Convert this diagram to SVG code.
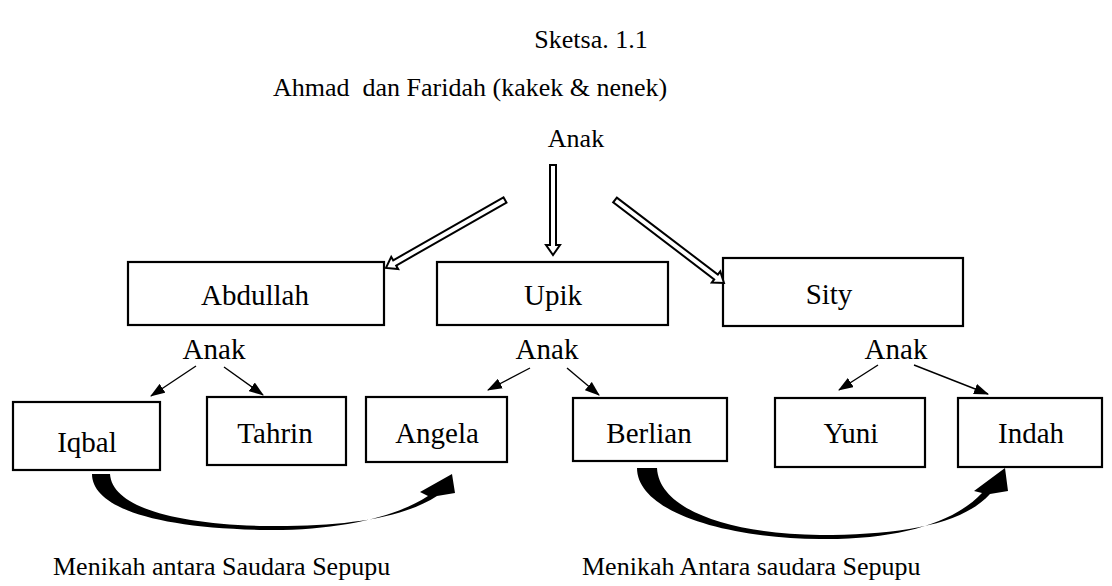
<svg xmlns="http://www.w3.org/2000/svg" width="1112" height="586" viewBox="0 0 1112 586">
<style>
text{font-family:"Liberation Serif","Times New Roman",serif;font-size:26px;fill:#000;white-space:pre}
.c{text-anchor:middle}
.n{font-size:29px}
.box{fill:#fff;stroke:#000;stroke-width:2.2}
.thin{fill:none;stroke:#000;stroke-width:1.4;marker-end:url(#ah)}
.dbl{fill:#fff;stroke:#000;stroke-width:2;stroke-linejoin:miter}
.curve{fill:#000;stroke:none}
</style>
<defs>
<marker id="ah" viewBox="0 0 14 10" refX="13" refY="5" markerWidth="15" markerHeight="11" markerUnits="userSpaceOnUse" orient="auto">
<path d="M0,0 L14,5 L0,10 Z" fill="#000"/>
</marker>
</defs>
<rect width="1112" height="586" fill="#fff"/>

<g id="titles">
<text class="c" x="591" y="48">Sketsa. 1.1</text>
<text x="273" y="96">Ahmad  dan Faridah (kakek &amp; nenek)</text>
</g>

<g id="labels">
<text class="c" x="576" y="147">Anak</text>
<text class="c n" x="214" y="359">Anak</text>
<text class="c n" x="547" y="359">Anak</text>
<text class="c n" x="896" y="359">Anak</text>
<text x="53" y="575">Menikah antara Saudara Sepupu</text>
<text x="582" y="575">Menikah Antara saudara Sepupu</text>
</g>

<g id="node-abdullah"><rect class="box" x="128" y="262" width="256" height="63"/><text class="c n" x="255" y="305">Abdullah</text></g>
<g id="node-upik"><rect class="box" x="437" y="262" width="231" height="63"/><text class="c n" x="553" y="305">Upik</text></g>
<g id="node-sity"><rect class="box" x="723" y="258" width="240" height="68"/><text class="c n" x="829" y="304">Sity</text></g>

<g id="node-iqbal"><rect class="box" x="13" y="402" width="147" height="68"/><text class="c n" x="87" y="452">Iqbal</text></g>
<g id="node-tahrin"><rect class="box" x="207" y="397" width="139" height="68"/><text class="c n" x="275" y="443">Tahrin</text></g>
<g id="node-angela"><rect class="box" x="366" y="397" width="141" height="65"/><text class="c n" x="437" y="443">Angela</text></g>
<g id="node-berlian"><rect class="box" x="573" y="398" width="154" height="63"/><text class="c n" x="649" y="443">Berlian</text></g>
<g id="node-yuni"><rect class="box" x="775" y="398" width="150" height="69"/><text class="c n" x="851" y="443">Yuni</text></g>
<g id="node-indah"><rect class="box" x="958" y="398" width="144" height="69"/><text class="c n" x="1031" y="443">Indah</text></g>

<g id="connectors">
<path class="dbl" transform="translate(553,165) rotate(90)" d="M0,-3 L80,-3 L80,-7 L90,0 L80,7 L80,3 L0,3 Z"/>
<path class="dbl" transform="translate(505,200) rotate(150.3)" d="M0,-3 L127,-3 L127,-7 L137,0 L127,7 L127,3 L0,3 Z"/>
<path class="dbl" transform="translate(615,200) rotate(37.3)" d="M0,-3 L127,-3 L127,-7 L137,0 L127,7 L127,3 L0,3 Z"/>

<line class="thin" x1="196" y1="366" x2="151" y2="396"/>
<line class="thin" x1="224" y1="367" x2="263" y2="395"/>
<line class="thin" x1="530" y1="368" x2="488" y2="390"/>
<line class="thin" x1="567" y1="368" x2="599" y2="395"/>
<line class="thin" x1="878" y1="365" x2="839" y2="390"/>
<line class="thin" x1="914" y1="365" x2="988" y2="394"/>

<path class="curve" d="M92,474 C92,506 150,528 265,530 C340,531 398,516 428,496 L420,492 L452,474 L455,493 L437,496 C402,519 340,527 265,526 C168,524 112,505 110,474 Z"/>
<path class="curve" d="M637,468 C637,511 722,538 820,539 C900,540 955,522 982,493 L974,491 L1005,468 L1008,491 L990,494 C962,525 900,535 820,535 C730,534 659,510 657,468 Z"/>
</g>
</svg>
